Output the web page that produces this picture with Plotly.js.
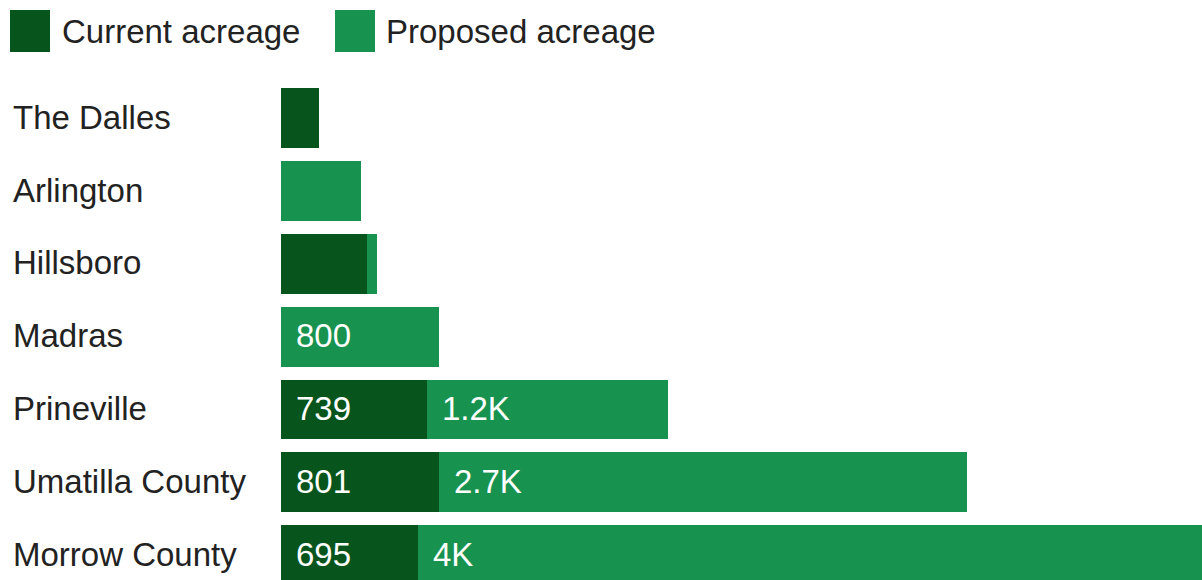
<!DOCTYPE html>
<html>
<head>
<meta charset="utf-8">
<script src="https://cdn.plot.ly/plotly-3.0.1.min.js"></script>
<style>html,body{margin:0;padding:0;background:#fff;}#chart{width:1202px;height:580px;}</style>
</head>
<body>
<div id="chart"></div>
<script>
const categories = ["The Dalles", "Arlington", "Hillsboro", "Madras", "Prineville", "Umatilla County", "Morrow County"];
const currentAcreage = [193, 0, 437, 0, 739, 801, 695];
const proposedAcreage = [0, 406, 50, 800, 1223, 2675, 3975];
const seriesNames = ["Current acreage", "Proposed acreage"];
const colors = ["#07541d", "#18924f"];

const W = 1202, H = 580, ML = 281, MT = 82, MR = 0, MB = 0;
const PW = W - ML - MR, PH = H - MT - MB;
const px = x => (x - ML) / PW;
const py = y => 1 - (y - MT) / PH;

function fmt(v) {
  if (v >= 1000) { const k = v / 1000; return (Math.round(k * 10) / 10).toString().replace(/\.0$/, '') + 'K'; }
  return String(v);
}
const FONT = "Liberation Sans, Arial, sans-serif";
const FS = 33;
const LABEL_MIN = 600;

const traces = [
  {type: 'bar', orientation: 'h', y: categories, x: currentAcreage, name: seriesNames[0],
   marker: {color: colors[0], line: {width: 0}}, hoverinfo: 'none', showlegend: false},
  {type: 'bar', orientation: 'h', y: categories, x: proposedAcreage, name: seriesNames[1],
   marker: {color: colors[1], line: {width: 0}}, hoverinfo: 'none', showlegend: false}
];

const annotations = [];
categories.forEach((c, i) => {
  annotations.push({xref: 'paper', yref: 'y', x: px(11), y: c, yshift: 1, text: c, showarrow: false,
    xanchor: 'left', yanchor: 'middle', font: {family: FONT, size: FS, color: '#222'}});
  if (currentAcreage[i] >= LABEL_MIN) {
    annotations.push({xref: 'x', yref: 'y', x: 0, y: c, yshift: 1, text: fmt(currentAcreage[i]), showarrow: false,
      xanchor: 'left', yanchor: 'middle', xshift: 13, font: {family: FONT, size: FS, color: '#fff'}});
  }
  if (proposedAcreage[i] >= LABEL_MIN) {
    annotations.push({xref: 'x', yref: 'y', x: currentAcreage[i], y: c, yshift: 1, text: fmt(proposedAcreage[i]), showarrow: false,
      xanchor: 'left', yanchor: 'middle', xshift: 13, font: {family: FONT, size: FS, color: '#fff'}});
  }
});

const shapes = [];
const legendItems = [{x0: 10, x1: 50, tx: 60}, {x0: 335, x1: 375, tx: 384}];
legendItems.forEach((l, i) => {
  shapes.push({type: 'rect', xref: 'paper', yref: 'paper', x0: px(l.x0), x1: px(l.x1), y0: py(52), y1: py(10),
    fillcolor: colors[i], line: {width: 0}});
  annotations.push({xref: 'paper', yref: 'paper', x: px(l.tx), y: py(31), text: seriesNames[i], showarrow: false,
    xanchor: 'left', yanchor: 'middle', font: {family: FONT, size: FS, color: '#222'}});
});

const layout = {
  width: W, height: H,
  margin: {l: ML, r: MR, t: MT, b: MB, pad: 0},
  paper_bgcolor: '#fff', plot_bgcolor: '#fff',
  barmode: 'stack', bargap: 0.176,
  showlegend: false,
  xaxis: {range: [0, 4670], showgrid: false, zeroline: false, showticklabels: false, showline: false, fixedrange: true},
  yaxis: {type: 'category', categoryorder: 'array', categoryarray: categories, range: [6.343, -0.5],
    showgrid: false, zeroline: false, showticklabels: false, showline: false, fixedrange: true},
  annotations: annotations,
  shapes: shapes,
  font: {family: FONT}
};

Plotly.newPlot('chart', traces, layout, {displayModeBar: false, staticPlot: true});
</script>
</body>
</html>
